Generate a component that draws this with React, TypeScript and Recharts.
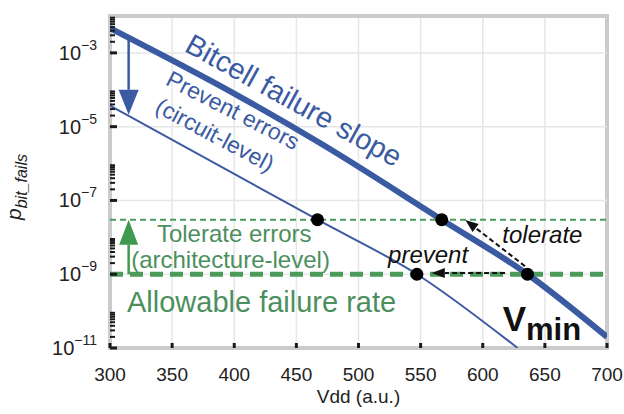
import {
  ComposedChart, Line, Scatter, XAxis, YAxis, CartesianGrid,
  ReferenceLine, ReferenceArea, ReferenceDot
} from 'recharts'

// Vdd (a.u.) vs bit failure probability
const bitcellVdd = [300, 400, 469, 567, 636, 700]
const bitcellP = [4.7e-3, 7.9e-5, 3.6e-6, 3e-8, 1e-9, 2e-11]

const preventVdd = [300, 467, 547, 628]
const preventP = [3.7e-5, 3e-8, 1e-9, 1e-11]

const markVdd = [467, 567, 547, 636]
const markP = [3e-8, 3e-8, 1e-9, 1e-9]

const allowableRate = 1e-9
const tolerateRate = 3e-8

const xTicks = [300, 350, 400, 450, 500, 550, 600, 650, 700]
const majorTicks = [1e-11, 1e-9, 1e-7, 1e-5, 1e-3]
const minorSteps = [2, 3, 4, 5, 6, 7, 8, 9]
const yTicks = [...majorTicks, ...majorTicks.flatMap(t => minorSteps.map(k => k * t))]

const bitcellData = bitcellVdd.map((x, i) => ({ x, y: bitcellP[i] }))
const preventData = preventVdd.map((x, i) => ({ x, y: preventP[i] }))
const markData = markVdd.map((x, i) => ({ x, y: markP[i] }))

const FONT = '"Liberation Sans", Arial, Helvetica, sans-serif'
const BLUE = '#3a5aa2'
const GREEN = '#4b9c5b'
const GREEN_TEXT = '#4c8f5e'
const INK = '#1a1a1a'

const XTick = ({ x, y, payload }: any) => (
  <g>
    <line x1={x} x2={x} y1={y} y2={y - 5} stroke={INK} strokeWidth={3} />
    <text x={x} y={y + 33} textAnchor="middle" fontSize={19} fill="#222" fontFamily={FONT}>
      {payload.value}
    </text>
  </g>
)

const YTick = ({ x, y, payload }: any) => {
  const lg = Math.log10(payload.value)
  const e = Math.round(lg)
  const major = Math.abs(lg - e) < 1e-6 && majorTicks.some(t => Math.abs(Math.log10(t) - e) < 1e-6)
  return (
    <g>
      <line x1={x} x2={x + (major ? 7 : 5)} y1={y} y2={y} stroke={INK} strokeWidth={major ? 3 : 2} />
      {major && (
        <text x={x - 13} y={y + 7} textAnchor="end" fontSize={20} fill="#222" fontFamily={FONT}>
          10<tspan dy={-10} fontSize={14}>{'\u2212' + -e}</tspan>
        </text>
      )}
    </g>
  )
}

const arrow = (color: string, width: number, head: number, headW: number, dash?: string) => (p: any) => {
  const { x1, y1, x2, y2 } = p
  const len = Math.hypot(x2 - x1, y2 - y1) || 1
  const ux = (x2 - x1) / len
  const uy = (y2 - y1) / len
  const bx = x2 - ux * head
  const by = y2 - uy * head
  const nx = (-uy * headW) / 2
  const ny = (ux * headW) / 2
  return (
    <g>
      <line x1={x1} y1={y1} x2={bx} y2={by} stroke={color} strokeWidth={width} strokeDasharray={dash} />
      <polygon points={`${x2},${y2} ${bx + nx},${by + ny} ${bx - nx},${by - ny}`} fill={color} />
    </g>
  )
}

const note = (text: string, opts: any) => (p: any) => {
  const { cx, cy } = p
  return (
    <text
      x={cx} y={cy}
      textAnchor={opts.anchor || 'middle'}
      dominantBaseline={opts.rotate ? 'central' : 'auto'}
      transform={opts.rotate ? `rotate(${opts.rotate} ${cx} ${cy})` : undefined}
      fontSize={opts.size}
      fontStyle={opts.italic ? 'italic' : 'normal'}
      fontWeight={opts.bold ? 'bold' : 'normal'}
      fill={opts.color}
      fontFamily={FONT}
    >
      {text}
    </text>
  )
}

export default function App() {
  return (
    <div style={{ position: 'absolute', left: 0, top: 0, width: 624, height: 414, background: '#fff' }}>
      <ComposedChart width={624} height={414} margin={{ top: 16, right: 17, bottom: 26, left: 0 }}>
        <CartesianGrid horizontal={false} stroke="#e6e6e6" strokeWidth={1.5} />
        {majorTicks.slice(1).map(t => (
          <ReferenceLine key={t} y={t} stroke="#e6e6e6" strokeWidth={1.5} />
        ))}
        <XAxis
          type="number" dataKey="x" domain={[300, 700]} ticks={xTicks}
          allowDataOverflow axisLine={false} tickLine={false} tickSize={0} tickMargin={0}
          height={40} interval={0} tick={<XTick />}
          label={{
            content: (p: any) => (
              <text
                x={p.viewBox.x + p.viewBox.width / 2} y={p.viewBox.y + 55}
                textAnchor="middle" fontSize={19} fill="#222" fontFamily={FONT}
              >
                Vdd (a.u.)
              </text>
            )
          }}
        />
        <YAxis
          scale="log" domain={[1e-11, 1e-2]} ticks={yTicks} allowDataOverflow
          axisLine={false} tickLine={false} tickSize={0} tickMargin={0}
          width={110} interval={0} tick={<YTick />}
          label={{
            content: (p: any) => {
              const cy = p.viewBox.y + p.viewBox.height / 2 + 5
              return (
                <text
                  x={21} y={cy} transform={`rotate(-90 21 ${cy})`}
                  textAnchor="middle" fontStyle="italic" fill="#222" fontFamily={FONT}
                >
                  <tspan fontSize={21}>p</tspan>
                  <tspan fontSize={16} dy={6}>bit_fails</tspan>
                </text>
              )
            }
          }}
        />
        <ReferenceArea
          x1={300} x2={700} y1={1e-11} y2={1e-2}
          fill="none" stroke="#cbcbcb" strokeWidth={4}
        />
        <ReferenceLine y={tolerateRate} stroke={GREEN} strokeWidth={2} strokeDasharray="6 4" />
        <ReferenceLine y={allowableRate} stroke={GREEN} strokeWidth={5} strokeDasharray="13 7" />

        <Line
          data={preventData} dataKey="y" type="monotone"
          stroke={BLUE} strokeWidth={2} dot={false} isAnimationActive={false}
        />
        <Line
          data={bitcellData} dataKey="y" type="monotone"
          stroke={BLUE} strokeWidth={6} dot={false} isAnimationActive={false}
        />
        <Scatter
          data={markData} dataKey="y" fill="#000" isAnimationActive={false}
          shape={(p: any) => <circle cx={p.cx} cy={p.cy} r={6.5} fill="#000" />}
        />

        <ReferenceLine
          segment={[{ x: 315, y: 2.4e-3 }, { x: 315, y: 2.1e-5 }]}
          shape={arrow(BLUE, 2.5, 25, 20)}
        />
        <ReferenceLine
          segment={[{ x: 315, y: 1e-9 }, { x: 315, y: 3e-8 }]}
          shape={arrow('#3f9a4f', 2.5, 25, 19)}
        />
        <ReferenceLine
          segment={[{ x: 634, y: 1.65e-9 }, { x: 586, y: 2.95e-8 }]}
          shape={arrow('#111', 2, 13, 10, '5 3')}
        />
        <ReferenceLine
          segment={[{ x: 618, y: 1.08e-9 }, { x: 559, y: 1.08e-9 }]}
          shape={arrow('#111', 2, 13, 10, '5 3')}
        />

        <ReferenceDot x={448} y={5.2e-5} r={0}
          shape={note('Bitcell failure slope', { size: 29, rotate: 29, color: BLUE })} />
        <ReferenceDot x={399} y={2.8e-5} r={0}
          shape={note('Prevent errors', { size: 23, rotate: 27, color: BLUE })} />
        <ReferenceDot x={384.5} y={6e-6} r={0}
          shape={note('(circuit-level)', { size: 23, rotate: 28, color: BLUE })} />
        <ReferenceDot x={400} y={7.5e-9} r={0}
          shape={note('Tolerate errors', { size: 24, color: GREEN_TEXT })} />
        <ReferenceDot x={397} y={1.48e-9} r={0}
          shape={note('(architecture-level)', { size: 24, color: GREEN_TEXT })} />
        <ReferenceDot x={422} y={9.5e-11} r={0}
          shape={note('Allowable failure rate', { size: 29, color: GREEN_TEXT })} />
        <ReferenceDot x={648} y={7.1e-9} r={0}
          shape={note('tolerate', { size: 24, italic: true, color: '#111' })} />
        <ReferenceDot x={556} y={2.04e-9} r={0}
          shape={note('prevent', { size: 24, italic: true, color: '#111' })} />
        <ReferenceDot x={616} y={2.9e-11} r={0}
          shape={(p: any) => (
            <text x={p.cx} y={p.cy} fontFamily={FONT} fontWeight="bold" fill="#111">
              <tspan fontSize={35}>V</tspan>
              <tspan fontSize={31} dy={9}>min</tspan>
            </text>
          )} />
      </ComposedChart>
    </div>
  )
}
